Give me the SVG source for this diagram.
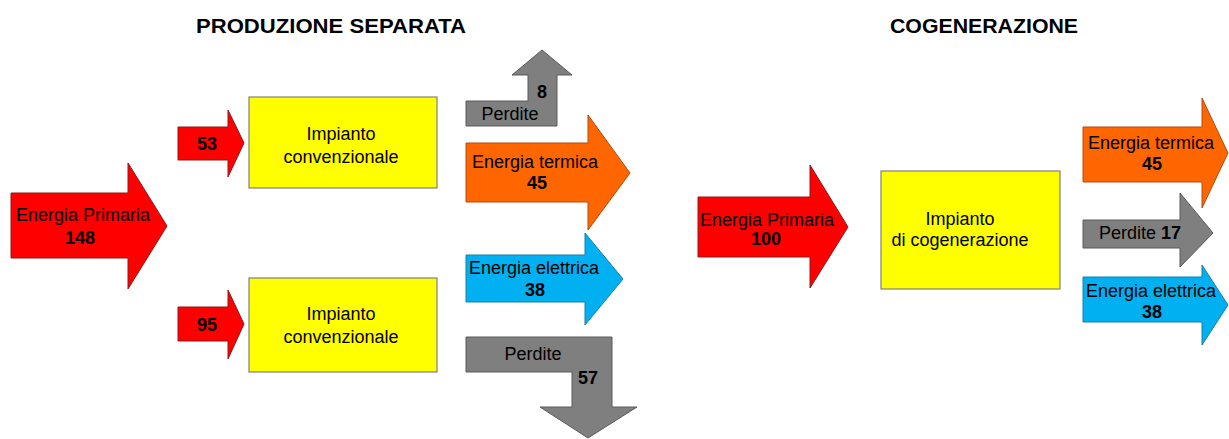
<svg xmlns="http://www.w3.org/2000/svg" width="1229" height="439" viewBox="0 0 1229 439">
<style>
.t{font-family:"Liberation Sans",Arial,sans-serif;font-size:18px;fill:#000;text-anchor:middle}
.b{font-weight:bold}
.title{font-family:"Liberation Sans",Arial,sans-serif;font-size:20px;font-weight:bold;fill:#000;text-anchor:middle}
.red{fill:#FF0000;stroke:#8c1a1a;stroke-width:1}
.box{fill:#FFFF00;stroke:#808080;stroke-width:1.2}
.org{fill:#FF6600;stroke:#b04a10;stroke-width:1}
.blu{fill:#00B0F0;stroke:#1a7fa8;stroke-width:1}
.gry{fill:#7F7F7F;stroke:#5a5a5a;stroke-width:1}
</style>
<rect width="1229" height="439" fill="#fff"/>
<text class="title" x="331" y="33" textLength="270" lengthAdjust="spacingAndGlyphs">PRODUZIONE SEPARATA</text>
<text class="title" x="984" y="33" textLength="188" lengthAdjust="spacingAndGlyphs">COGENERAZIONE</text>

<g id="connectors">
<g id="ep148">
<path class="red" d="M11,193 H128 V163 L167,226 L128,289 V258 H11 Z"/>
<text class="t" x="83" y="221">Energia Primaria</text>
<text class="t b" x="80" y="244">148</text>
</g>
<g id="in53">
<path class="red" d="M178,127 H228 V110 L244,143 L228,177 V160 H178 Z"/>
<text class="t b" x="207" y="150">53</text>
</g>
<g id="in95">
<path class="red" d="M178,307 H228 V290 L244,324 L228,359 V341 H178 Z"/>
<text class="t b" x="207" y="331">95</text>
</g>
<g id="perdite8">
<path class="gry" d="M466,101 H528 V75 H512 L542,50 L572,75 H557 V126 H466 Z"/>
<text class="t" x="510" y="120">Perdite</text>
<text class="t b" x="542" y="98">8</text>
</g>
<g id="termica45">
<path class="org" d="M466,143 H588 V115 L630,173 L588,230 V202 H466 Z"/>
<text class="t" x="535" y="168">Energia termica</text>
<text class="t b" x="537" y="189">45</text>
</g>
<g id="elettrica38">
<path class="blu" d="M466,255 H585 V233 L623,279 L585,325 V302 H466 Z"/>
<text class="t" x="534" y="274">Energia elettrica</text>
<text class="t b" x="535" y="296">38</text>
</g>
<g id="perdite57">
<path class="gry" d="M466,337 H612 V407 H637 L588,438 L540,407 H572 V372 H466 Z"/>
<text class="t" x="533" y="360">Perdite</text>
<text class="t b" x="588" y="384">57</text>
</g>
<g id="ep100">
<path class="red" d="M698,197 H810 V165 L848,227 L810,288 V257 H698 Z"/>
<text class="t" x="767" y="226">Energia Primaria</text>
<text class="t b" x="766" y="245">100</text>
</g>
<g id="termica45b">
<path class="org" d="M1083,127 H1202 V98 L1228,153 L1202,208 V182 H1083 Z"/>
<text class="t" x="1151" y="149">Energia termica</text>
<text class="t b" x="1152" y="170">45</text>
</g>
<g id="perdite17">
<path class="gry" d="M1083,220 H1180 V193 L1213,233 L1180,267 V248 H1083 Z"/>
<text class="t" x="1140" y="239">Perdite <tspan class="b">17</tspan></text>
</g>
<g id="elettrica38b">
<path class="blu" d="M1083,277 H1202 V265 L1228,305 L1202,345 V322 H1083 Z"/>
<text class="t" x="1151" y="297">Energia elettrica</text>
<text class="t b" x="1152" y="318">38</text>
</g>
</g>

<g id="impianto1">
<rect class="box" x="249" y="97" width="188" height="91"/>
<text class="t" x="341" y="140">Impianto</text>
<text class="t" x="341" y="163">convenzionale</text>
</g>
<g id="impianto2">
<rect class="box" x="249" y="278" width="188" height="94"/>
<text class="t" x="341" y="320">Impianto</text>
<text class="t" x="341" y="343">convenzionale</text>
</g>
<g id="cogen">
<rect class="box" x="881" y="171" width="179" height="118"/>
<text class="t" x="960" y="225">Impianto</text>
<text class="t" x="960" y="246">di cogenerazione</text>
</g>
</svg>
